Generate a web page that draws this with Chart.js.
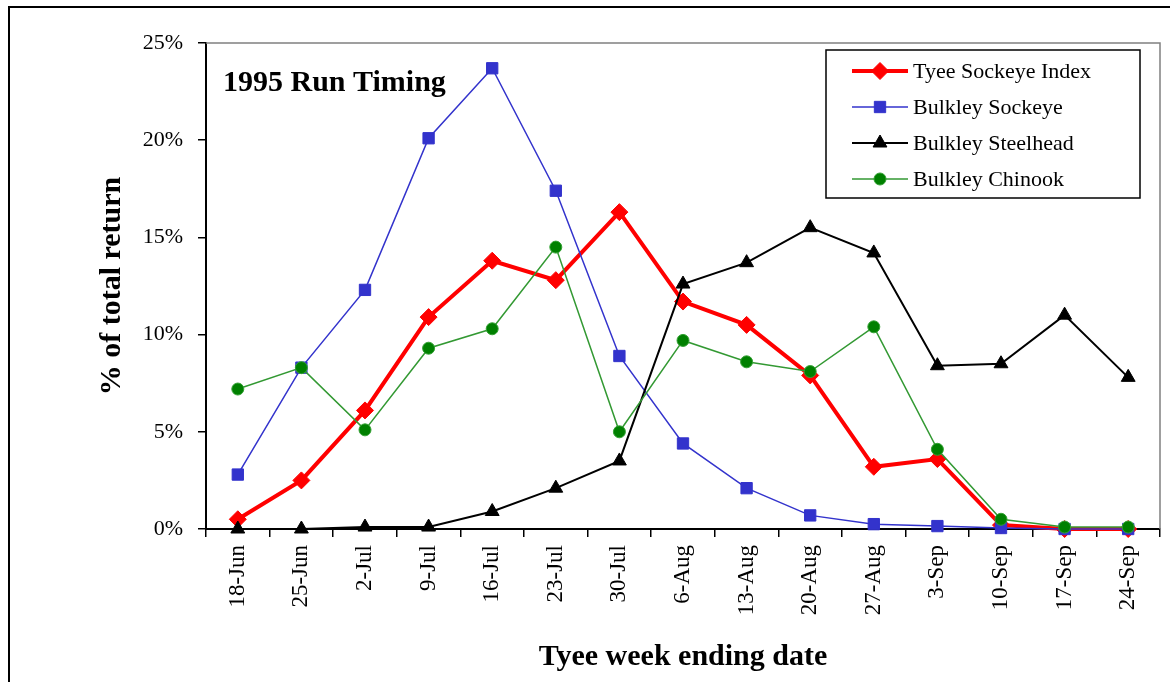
<!DOCTYPE html>
<html lang="en">
<head>
<meta charset="UTF-8" />
<title>1995 Run Timing</title>
<script src="https://cdn.jsdelivr.net/npm/chart.js"></script>
<style>
  html, body { margin: 0; padding: 0; background: #fff; }
  #wrap { width: 1170px; height: 682px; }
</style>
</head>
<body>
<div id="wrap"><canvas id="runChart" width="1170" height="682"></canvas></div>
<script>
  // weekly share of total return (%)
  const weeks = ['18-Jun', '25-Jun', '2-Jul', '9-Jul', '16-Jul', '23-Jul', '30-Jul', '6-Aug',
                 '13-Aug', '20-Aug', '27-Aug', '3-Sep', '10-Sep', '17-Sep', '24-Sep'];
  const tyeeSockeye     = [0.5, 2.5, 6.1, 10.9, 13.8, 12.8, 16.3, 11.7, 10.5, 7.9, 3.2, 3.6, 0.2, 0.0, 0.0];
  const bulkleySockeye  = [2.8, 8.3, 12.3, 20.1, 23.7, 17.4, 8.9, 4.4, 2.1, 0.7, 0.25, 0.15, 0.05, 0.0, 0.0];
  const bulkleySteelhead = [0.0, 0.0, 0.1, 0.1, 0.9, 2.1, 3.5, 12.6, 13.7, 15.5, 14.2, 8.4, 8.5, 11.0, 7.8];
  const bulkleyChinook  = [7.2, 8.3, 5.1, 9.3, 10.3, 14.5, 5.0, 9.7, 8.6, 8.1, 10.4, 4.1, 0.5, 0.1, 0.1];
  const yTicks = [0, 5, 10, 15, 20, 25];

  const serif = "'Liberation Serif', 'Times New Roman', serif";

  const decor = {
    id: 'decor',
    beforeDraw(chart) {
      const ctx = chart.ctx;
      ctx.save();
      ctx.strokeStyle = '#000';
      ctx.lineWidth = 2;
      ctx.strokeRect(9, 7, 1200, 700);
      ctx.restore();
    },
    beforeDatasetsDraw(chart) {
      const { ctx, chartArea: a } = chart;
      ctx.save();
      ctx.strokeStyle = '#808080';
      ctx.lineWidth = 1.5;
      ctx.beginPath();
      ctx.moveTo(a.left, a.top);
      ctx.lineTo(a.right, a.top);
      ctx.lineTo(a.right, a.bottom);
      ctx.stroke();
      ctx.restore();
    },
    afterDraw(chart) {
      const ctx = chart.ctx;
      ctx.save();
      // caption inside plot
      ctx.fillStyle = '#000';
      ctx.font = 'bold 30px ' + serif;
      ctx.textBaseline = 'middle';
      ctx.textAlign = 'left';
      ctx.fillText('1995 Run Timing', 223, 83);

      // legend box
      ctx.fillStyle = '#fff';
      ctx.fillRect(826, 50, 314, 148);
      ctx.strokeStyle = '#000';
      ctx.lineWidth = 1.5;
      ctx.strokeRect(826, 50, 314, 148);

      const byLegend = [...chart.data.datasets].sort((a, b) => b.order - a.order);
      byLegend.forEach((ds, i) => {
        const y = 71 + i * 36;
        ctx.strokeStyle = ds.borderColor;
        ctx.lineWidth = ds.borderWidth;
        ctx.beginPath();
        ctx.moveTo(852, y);
        ctx.lineTo(908, y);
        ctx.stroke();
        ctx.fillStyle = ds.pointBackgroundColor;
        ctx.strokeStyle = ds.pointBorderColor;
        ctx.lineWidth = 1;
        Chart.helpers.drawPoint(ctx, { pointStyle: ds.pointStyle, radius: ds.pointRadius, rotation: 0, borderWidth: 1 }, 880, y);
        ctx.fillStyle = '#000';
        ctx.font = '22px ' + serif;
        ctx.textAlign = 'left';
        ctx.textBaseline = 'middle';
        ctx.fillText(ds.label, 913, y + 1);
      });
      ctx.restore();
    }
  };

  new Chart(document.getElementById('runChart'), {
    type: 'line',
    data: {
      labels: weeks,
      datasets: [
        { label: 'Tyee Sockeye Index', data: tyeeSockeye, order: 4,
          borderColor: '#FF0000', backgroundColor: '#FF0000', borderWidth: 4,
          pointStyle: 'rectRot', pointRadius: 8.5, pointBackgroundColor: '#FF0000', pointBorderColor: '#FF0000', pointBorderWidth: 1 },
        { label: 'Bulkley Sockeye', data: bulkleySockeye, order: 3,
          borderColor: '#3333CC', backgroundColor: '#3333CC', borderWidth: 1.5,
          pointStyle: 'rect', pointRadius: 8, pointBackgroundColor: '#3333CC', pointBorderColor: '#3333CC', pointBorderWidth: 1 },
        { label: 'Bulkley Steelhead', data: bulkleySteelhead, order: 2,
          borderColor: '#000000', backgroundColor: '#000000', borderWidth: 2,
          pointStyle: 'triangle', pointRadius: 8, pointBackgroundColor: '#000000', pointBorderColor: '#000000', pointBorderWidth: 1 },
        { label: 'Bulkley Chinook', data: bulkleyChinook, order: 1,
          borderColor: '#339933', backgroundColor: '#008000', borderWidth: 1.5,
          pointStyle: 'circle', pointRadius: 6, pointBackgroundColor: '#008000', pointBorderColor: '#33A033', pointBorderWidth: 1 }
      ]
    },
    options: {
      responsive: false,
      animation: false,
      devicePixelRatio: 1,
      layout: { padding: { top: 43, right: 10, left: 0, bottom: 0 } },
      elements: { line: { tension: 0 } },
      datasets: { line: { clip: false } },
      plugins: { legend: { display: false }, tooltip: { enabled: false } },
      scales: {
        x: {
          offset: true,
          grid: { offset: true, drawOnChartArea: false, drawTicks: true, tickLength: 8, color: '#000', lineWidth: 1.5 },
          border: { color: '#000', width: 2 },
          ticks: { color: '#000', font: { family: serif, size: 23 }, minRotation: 90, maxRotation: 90, padding: 8, autoSkip: false },
          title: { display: true, text: 'Tyee week ending date', color: '#000',
                   font: { family: serif, size: 30, weight: 'bold' }, padding: { top: 0, bottom: 7 } },
          afterFit: s => { s.height = 153; }
        },
        y: {
          min: 0, max: 25,
          afterBuildTicks: s => { s.ticks = yTicks.map(v => ({ value: v })); },
          grid: { drawOnChartArea: false, drawTicks: true, tickLength: 8, color: '#000', lineWidth: 1.5 },
          border: { color: '#000', width: 2 },
          ticks: { color: '#000', font: { family: serif, size: 22 }, padding: 15, callback: v => v + '%' },
          title: { display: true, text: '% of total return', color: '#000',
                   font: { family: serif, size: 30, weight: 'bold' }, padding: { top: 94, bottom: 0 } },
          afterFit: s => { s.width = 206; }
        }
      }
    },
    plugins: [decor]
  });
</script>
</body>
</html>
